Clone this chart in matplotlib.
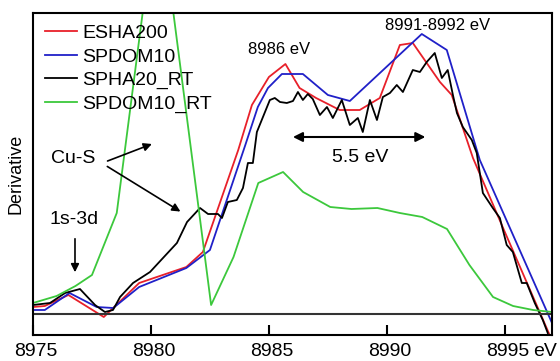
import numpy as np
import matplotlib
matplotlib.use("Agg")
import matplotlib.pyplot as plt
import matplotlib.transforms as mtransforms

plt.rcParams['font.family'] = ['Liberation Sans', 'DejaVu Sans']

# ESHA200 (red)
esha_e = [8975.0, 8975.5, 8976.5, 8978.0, 8979.5, 8981.5, 8982.2, 8983.7, 8984.28,
          8985.0, 8985.7, 8986.3, 8987.0, 8988.0, 8988.85, 8989.7, 8990.55, 8991.1,
          8992.25, 8992.75, 8993.65, 8995.0, 8996.9]
esha_v = [0.07, 0.08, 0.19, -0.03, 0.31, 0.47, 0.62, 1.64, 2.09,
          2.37, 2.50, 2.26, 2.16, 2.04, 2.04, 2.16, 2.69, 2.71,
          2.32, 2.19, 1.56, 0.82, -0.21]

# SPDOM10 (blue)
spdom_e = [8975.0, 8975.5, 8976.55, 8977.7, 8978.4, 8979.5, 8981.5, 8982.5, 8984.0,
           8984.53, 8984.96, 8985.55, 8986.44, 8987.5, 8988.43, 8991.48, 8992.54,
           8993.94, 8997.0]
spdom_v = [0.04, 0.04, 0.21, 0.07, 0.06, 0.27, 0.46, 0.64, 1.69,
           2.07, 2.26, 2.40, 2.40, 2.19, 2.13, 2.80, 2.64,
           1.54, -0.09]

# SPHA20_RT (black)
spha_e = [8975.0, 8975.72, 8976.36, 8976.99, 8977.63, 8978.05, 8978.39, 8978.69, 8979.24,
          8979.96, 8980.51, 8981.1, 8981.53, 8982.08, 8982.42, 8982.84, 8983.01, 8983.26,
          8983.64, 8983.9, 8984.11, 8984.32, 8984.49, 8985.04, 8985.25, 8985.47, 8985.76,
          8986.02, 8986.23, 8986.44, 8986.65, 8986.86, 8987.16, 8987.46, 8987.71, 8988.09,
          8988.43, 8988.77, 8988.98, 8989.28, 8989.58, 8989.83, 8990.13, 8990.42, 8990.68,
          8991.1, 8991.4, 8991.69, 8992.03, 8992.33, 8992.58, 8992.8, 8992.97, 8993.22,
          8993.6, 8993.81, 8994.07, 8994.49, 8994.79, 8995.08, 8995.34, 8995.72, 8995.93,
          8996.27, 8996.61, 8996.82]
spha_v = [0.09, 0.11, 0.21, 0.25, 0.09, 0.02, 0.04, 0.17, 0.31,
          0.42, 0.56, 0.71, 0.92, 1.06, 1.00, 1.00, 0.96, 1.12,
          1.14, 1.26, 1.51, 1.51, 1.82, 2.14, 2.16, 2.12, 2.11,
          2.13, 2.22, 2.14, 2.20, 2.15, 1.99, 2.07, 1.96, 2.14,
          1.89, 1.96, 1.82, 2.14, 1.94, 2.17, 2.21, 2.29, 2.22,
          2.44, 2.42, 2.52, 2.61, 2.36, 2.44, 2.19, 2.01, 1.87,
          1.74, 1.61, 1.21, 1.06, 0.96, 0.69, 0.62, 0.31, 0.31,
          0.11, -0.06, -0.19]

# SPDOM10_RT (green)
spdomrt_e = [8975.0, 8976.0, 8976.8, 8977.5, 8978.55, 8980.3, 8982.55, 8983.5, 8984.55,
             8985.6, 8986.45, 8987.6, 8988.5, 8989.6, 8990.55, 8991.5, 8992.55, 8993.5,
             8994.5, 8995.35, 8996.2, 8997.0]
spdomrt_v = [0.11, 0.18, 0.28, 0.39, 1.01, 4.2, 0.09, 0.57, 1.31,
             1.42, 1.22, 1.07, 1.05, 1.06, 1.01, 0.97, 0.85, 0.49,
             0.17, 0.08, 0.04, 0.02]

xticks = [8975, 8980, 8985, 8990, 8995]

fig = plt.figure(figsize=(5.6, 3.61), dpi=100)
ax = fig.add_axes([33/560, 1 - 335/361, (552-33)/560, (335-13)/361])

lw = 1.3
ax.plot(esha_e, esha_v, color='#e8202a', lw=lw, label='ESHA200')
ax.plot(spdom_e, spdom_v, color='#2020c8', lw=lw, label='SPDOM10')
ax.plot(spha_e, spha_v, color='black', lw=lw, label='SPHA20_RT')
ax.plot(spdomrt_e, spdomrt_v, color='#3cc83c', lw=lw, label='SPDOM10_RT')
ax.axhline(0, color='#333333', lw=1.5)

ax.set_xlim(8975, 8997)
ax.set_ylim(-0.21, 3.01)
ax.set_xticks(xticks)
ax.set_yticks([])
ax.tick_params(axis='x', direction='in', length=7, width=1.5, labelsize=14, pad=6)
shift = mtransforms.ScaledTranslation(3/100, 0, fig.dpi_scale_trans)
for lab in ax.get_xticklabels():
    lab.set_transform(lab.get_transform() + shift)
for s in ax.spines.values():
    s.set_linewidth(1.5)
ax.set_ylabel('Derivative', fontsize=13, labelpad=6)
fig.text(545/560, 1 - 352/361, 'eV', ha='center', va='center', fontsize=14)

ax.legend(loc='upper left', frameon=False, fontsize=14, handlelength=1.65,
          handletextpad=0.3, labelspacing=0.3, borderaxespad=0.2,
          bbox_to_anchor=(0.0, 1.0))

ax.text(8985.45, 2.64, '8986 eV', ha='center', va='center', fontsize=12)
ax.text(8992.15, 2.88, '8991-8992 eV', ha='center', va='center', fontsize=12)

arr = dict(arrowstyle='<|-|>', color='black', lw=1.5, mutation_scale=14)
ax.annotate('', xy=(8985.9, 1.77), xytext=(8991.75, 1.77), arrowprops=arr)
ax.text(8988.85, 1.56, '5.5 eV', ha='center', va='center', fontsize=14)

one = dict(arrowstyle='-|>', color='black', lw=1.2, mutation_scale=12)
ax.text(8976.7, 1.55, 'Cu-S', ha='center', va='center', fontsize=14)
ax.annotate('', xy=(8980.15, 1.71), xytext=(8978.05, 1.52), arrowprops=one)
ax.annotate('', xy=(8981.35, 1.01), xytext=(8978.05, 1.49), arrowprops=one)

ax.text(8976.75, 0.94, '1s-3d', ha='center', va='center', fontsize=14)
ax.annotate('', xy=(8976.78, 0.39), xytext=(8976.78, 0.78), arrowprops=one)

fig.savefig('out.png', dpi=100)
